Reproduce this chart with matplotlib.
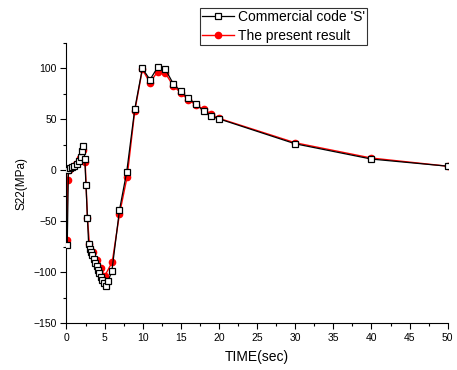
import numpy as np
import matplotlib.pyplot as plt
from matplotlib.ticker import MultipleLocator

plt.rcParams['font.family'] = ['Liberation Sans', 'DejaVu Sans']

# Commercial code 'S' (open squares)
s_time = [0.1, 0.25, 0.5, 0.7, 1.0, 1.4, 1.7, 1.9, 2.0, 2.2, 2.4, 2.55, 2.75, 2.9,
          3.05, 3.2, 3.35, 3.55, 3.75, 3.95, 4.1, 4.3, 4.5, 4.7, 4.95, 5.15,
          5.45, 5.95, 6.95, 7.9, 8.95, 9.95, 10.95, 11.95, 12.95, 14, 15, 16,
          17, 18, 19, 20, 30, 40, 50]
s_val = [-73, 0, 2, 3, 4, 6, 9, 13, 19, 24, 11, -14, -47, -72,
         -77, -80, -83, -87, -91, -94, -98, -101, -105, -108, -111, -114,
         -109, -99, -39, -1.5, 60, 100, 89, 101, 99.5, 85, 77.5, 70.5,
         65, 58, 53, 50.5, 26, 11, 4]

# The present result (filled circles)
p_time = [0.05, 0.15, 0.3, 0.7, 1.2, 1.8, 2.2, 2.45, 2.75, 3.0, 3.5, 4.0, 4.5,
          5.0, 6.0, 6.95, 7.95, 8.95, 9.95, 10.95, 11.95, 12.95, 14, 15, 16,
          17, 18, 19, 20, 30, 40, 50]
p_val = [-68, -10, 0, 3, 6, 12, 20, 8, -47, -72, -80, -88, -96,
         -104, -90, -43, -6.5, 58, 99, 86, 97, 95.5, 83, 76, 69,
         64, 60, 55, 51, 27, 12, 4]

fig = plt.figure(figsize=(4.57, 3.70), dpi=100)
ax = fig.add_axes([0.1455, 0.127, 0.8342, 0.7568])

ax.plot(p_time, p_val, '-', color='red', lw=1.0, marker='o', ms=4.5,
        mfc='red', mec='red', label='The present result', zorder=2)
ax.plot(s_time, s_val, '-', color='black', lw=0.9, marker='s', ms=5,
        mfc='white', mec='black', mew=0.9, label="Commercial code 'S'", zorder=3)

ax.set_xlim(0, 50)
ax.set_ylim(-150, 125)
ax.xaxis.set_major_locator(MultipleLocator(5))
ax.xaxis.set_minor_locator(MultipleLocator(2.5))
ax.yaxis.set_major_locator(MultipleLocator(50))
ax.yaxis.set_minor_locator(MultipleLocator(25))
ax.tick_params(which='major', direction='out', length=4, width=0.8, labelsize=7.5, pad=3)
ax.tick_params(which='minor', direction='out', length=2.5, width=0.8)
ax.spines['top'].set_visible(False)
ax.spines['right'].set_visible(False)

ax.set_xlabel('TIME(sec)', fontsize=10, labelpad=5)
ax.set_ylabel('S22(MPa)', fontsize=8.5, labelpad=4)

h, l = ax.get_legend_handles_labels()
leg = fig.legend(h[::-1], l[::-1], loc='upper left', bbox_to_anchor=(0.4376, 0.978),
                 borderaxespad=0, fontsize=10, frameon=True, fancybox=False,
                 edgecolor='black', handlelength=2.3, borderpad=0.15,
                 labelspacing=0.35, handletextpad=0.3)
leg.get_frame().set_linewidth(0.8)

fig.savefig('out.png', dpi=100)
